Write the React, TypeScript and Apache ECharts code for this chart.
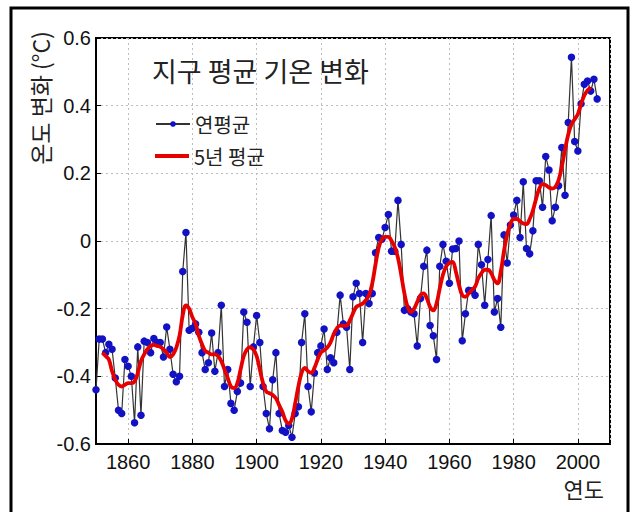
import React, { useEffect, useRef } from "react";
import * as echarts from "echarts";

const annualStartYear = 1850;
// Annual mean anomaly, 1850-2006
const annualValues = [
  -0.44, -0.29, -0.29, -0.33, -0.305, -0.32, -0.405, -0.5, -0.51, -0.35,
  -0.37, -0.4, -0.537, -0.313, -0.515, -0.296, -0.3, -0.33, -0.288, -0.3,
  -0.3, -0.343, -0.254, -0.32, -0.394, -0.416, -0.4, -0.09, 0.025, -0.264,
  -0.258, -0.245, -0.27, -0.33, -0.38, -0.36, -0.272, -0.385, -0.33, -0.19,
  -0.43, -0.38, -0.48, -0.5, -0.445, -0.42, -0.21, -0.24, -0.43, -0.313,
  -0.22, -0.3, -0.43, -0.51, -0.555, -0.41, -0.33, -0.51, -0.56, -0.565,
  -0.545, -0.58, -0.51, -0.49, -0.3, -0.215, -0.43, -0.505, -0.39, -0.33,
  -0.31, -0.26, -0.38, -0.345, -0.36, -0.27, -0.16, -0.245, -0.255, -0.38,
  -0.165, -0.125, -0.155, -0.3, -0.155, -0.185, -0.155, -0.035, 0.01, 0.005,
  0.04, 0.078, -0.03, -0.03, 0.12, -0.01, -0.205, -0.2, -0.21, -0.215,
  -0.31, -0.17, -0.075, -0.027, -0.25, -0.28, -0.35, -0.075, -0.01, -0.06,
  -0.125, -0.024, -0.022, 0.0, -0.295, -0.215, -0.146, -0.147, -0.16, -0.01,
  -0.07, -0.19, -0.055, 0.075, -0.21, -0.17, -0.255, 0.018, -0.065, 0.047,
  0.077, 0.12, 0.01, 0.175, -0.022, -0.038, 0.03, 0.178, 0.178, 0.1,
  0.25, 0.21, 0.06, 0.1, 0.163, 0.276, 0.135, 0.35, 0.543, 0.294,
  0.266, 0.406, 0.463, 0.473, 0.443, 0.478, 0.42,
];

const fiveYearStartYear = 1852;
// 5-year mean, 1852-2004
const fiveYearValues = [
  -0.33, -0.34, -0.35, -0.385, -0.41, -0.425, -0.43, -0.425,
  -0.42, -0.42, -0.415, -0.39, -0.355, -0.335, -0.32, -0.31, -0.307, -0.31,
  -0.313, -0.32, -0.33, -0.343, -0.335, -0.315, -0.28, -0.22, -0.19, -0.2,
  -0.225, -0.245, -0.28, -0.305, -0.325, -0.33, -0.335, -0.335, -0.34, -0.355,
  -0.38, -0.405, -0.43, -0.435, -0.42, -0.38, -0.34, -0.32, -0.314, -0.32,
  -0.34, -0.38, -0.42, -0.445, -0.45, -0.455, -0.465, -0.485, -0.505, -0.53,
  -0.54, -0.525, -0.48, -0.43, -0.39, -0.375, -0.385, -0.39, -0.375, -0.35,
  -0.33, -0.323, -0.315, -0.3, -0.275, -0.258, -0.25, -0.25, -0.25, -0.235,
  -0.214, -0.195, -0.19, -0.185, -0.175, -0.16, -0.125, -0.07, -0.02, 0.005,
  0.012, 0.012, 0.0, -0.018, -0.05, -0.1, -0.155, -0.195, -0.21, -0.2,
  -0.18, -0.16, -0.155, -0.17, -0.195, -0.205, -0.185, -0.14, -0.1, -0.075,
  -0.065, -0.062, -0.09, -0.13, -0.16, -0.165, -0.155, -0.145, -0.135, -0.11,
  -0.095, -0.085, -0.085, -0.095, -0.115, -0.125, -0.09, -0.03, 0.02, 0.05,
  0.065, 0.065, 0.058, 0.052, 0.05, 0.065, 0.09, 0.125, 0.155, 0.168,
  0.165, 0.158, 0.155, 0.16, 0.18, 0.22, 0.27, 0.315, 0.345, 0.36,
  0.375, 0.405, 0.43, 0.445, 0.455,
];

const seriesNames = ["연평균", "5년 평균"];
const yTickValues = [-0.6, -0.4, -0.2, 0, 0.2, 0.4, 0.6];
const xTickYears = [1860, 1880, 1900, 1920, 1940, 1960, 1980, 2000];
const titleText = "지구 평균 기온 변화";
const yAxisTitle = "온도 변화 (°C)";
const xAxisTitle = "연도";

const LATIN = "'Liberation Sans', Arial, sans-serif";
const KR = "'Noto Sans CJK KR', 'Noto Sans', sans-serif";

export default function App() {
  const ref = useRef<HTMLDivElement>(null);
  useEffect(() => {
    if (!ref.current) return;
    const chart = echarts.init(ref.current, null, { renderer: "svg" });
    const annualData = annualValues.map((v, i) => [annualStartYear + i, v]);
    const fiveData = fiveYearValues.map((v, i) => [fiveYearStartYear + i, v]);
    const legendText = { fontSize: 20, fontFamily: KR, color: "#222" };
    chart.setOption({
      animation: false,
      backgroundColor: "#ffffff",
      grid: {
        left: 96,
        top: 38,
        right: 24,
        bottom: 68,
        show: true,
        borderColor: "#000",
        borderWidth: 2,
        backgroundColor: "transparent",
      },
      xAxis: {
        type: "value",
        min: 1850,
        max: 2010,
        splitNumber: 8,
        axisLine: { show: true, onZero: false, lineStyle: { color: "#000", width: 2 } },
        axisTick: { show: true, inside: true, length: 5, lineStyle: { color: "#000" } },
        axisLabel: {
          color: "#111",
          fontSize: 20,
          fontFamily: LATIN,
          margin: 8,
          showMinLabel: false,
          showMaxLabel: false,
          formatter: (v: number) => (xTickYears.includes(Math.round(v)) ? String(Math.round(v)) : ""),
        },
        splitLine: { show: true, lineStyle: { color: "#bdbdbd", type: [2, 3], width: 1 } },
      },
      yAxis: {
        type: "value",
        min: -0.6,
        max: 0.6,
        interval: 0.2,
        axisLine: { show: true, onZero: false, lineStyle: { color: "#000", width: 2 } },
        axisTick: { show: true, inside: true, length: 5, lineStyle: { color: "#000" } },
        axisLabel: {
          color: "#111",
          fontSize: 20,
          fontFamily: LATIN,
          margin: 5,
          formatter: (v: number) => {
            const near = yTickValues.find((t) => Math.abs(t - v) < 1e-6);
            const val = near === undefined ? v : near;
            return String(Number(val.toFixed(1)));
          },
        },
        splitLine: { show: true, lineStyle: { color: "#bdbdbd", type: [2, 3], width: 1 } },
      },
      legend: [
        {
          data: [seriesNames[0]],
          left: 150,
          top: 109,
          itemWidth: 34,
          itemHeight: 7,
          itemGap: 8,
          textStyle: legendText,
        },
        {
          data: [seriesNames[1]],
          left: 150,
          top: 141,
          icon: "rect",
          itemWidth: 34,
          itemHeight: 4,
          itemGap: 8,
          textStyle: legendText,
        },
      ],
      graphic: [
        {
          type: "rect",
          shape: { x: 11, y: 8, width: 617, height: 512 },
          style: { fill: "none", stroke: "#000", lineWidth: 3 },
          silent: true,
        },
        {
          type: "text",
          x: 152,
          y: 70,
          style: {
            text: titleText,
            font: `27px ${KR}`,
            fill: "#222",
            textVerticalAlign: "middle",
          },
        },
        {
          type: "text",
          x: 40,
          y: 98,
          rotation: Math.PI / 2,
          style: {
            text: yAxisTitle,
            font: `23px ${KR}`,
            fill: "#222",
            textAlign: "center",
            textVerticalAlign: "middle",
          },
        },
        {
          type: "text",
          x: 604,
          y: 488,
          style: {
            text: xAxisTitle,
            font: `22px ${KR}`,
            fill: "#222",
            textAlign: "right",
            textVerticalAlign: "middle",
          },
        },
      ],
      series: [
        {
          name: seriesNames[0],
          type: "line",
          data: annualData,
          symbol: "circle",
          symbolSize: 7.5,
          showSymbol: true,
          itemStyle: { color: "#1212c4", borderWidth: 0 },
          lineStyle: { color: "#333333", width: 1.2 },
          z: 2,
        },
        {
          name: seriesNames[1],
          type: "line",
          data: fiveData,
          symbol: "none",
          smooth: 0.4,
          itemStyle: { color: "#e60000" },
          lineStyle: { color: "#e60000", width: 3.8 },
          z: 3,
        },
      ],
    });
    return () => chart.dispose();
  }, []);
  return (
    <div
      ref={ref}
      style={{ position: "fixed", left: 0, top: 0, width: 634, height: 512, background: "#fff" }}
    />
  );
}
